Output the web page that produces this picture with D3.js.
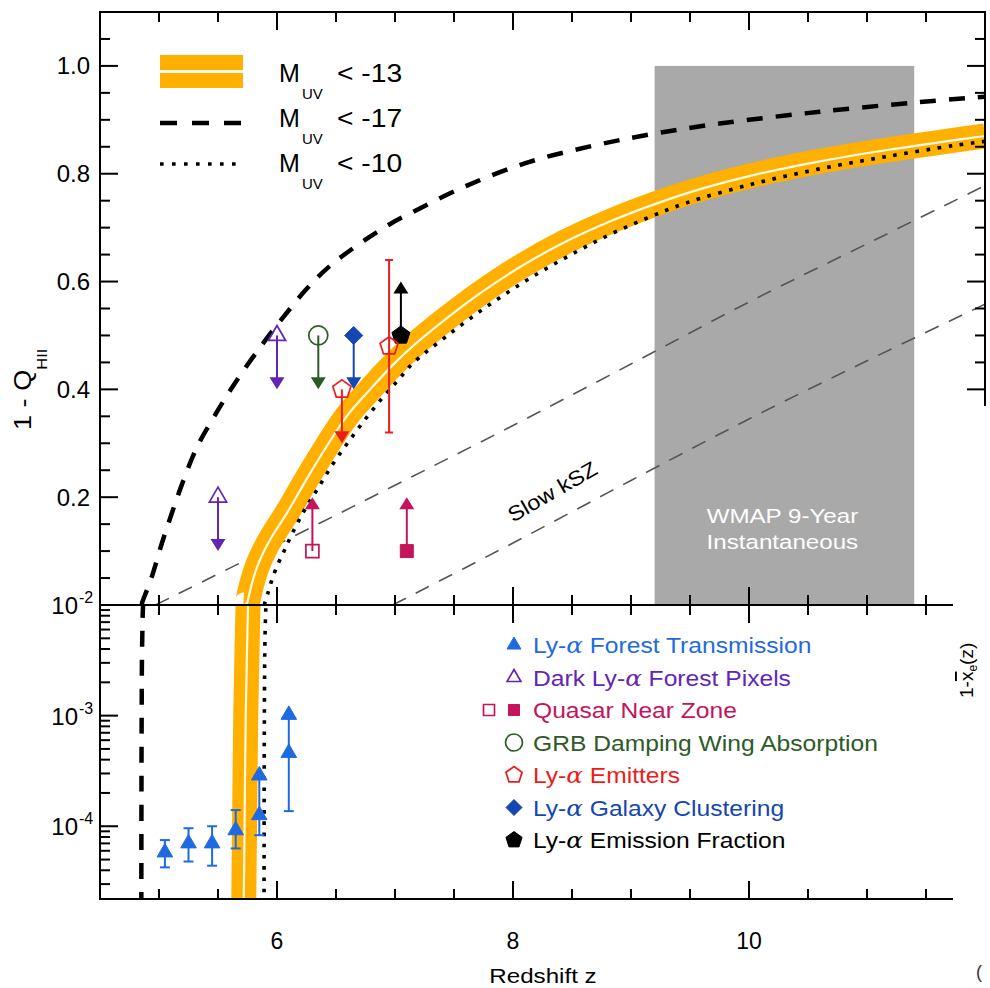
<!DOCTYPE html>
<html>
<head>
<meta charset="utf-8">
<script src="https://cdn.jsdelivr.net/npm/d3@7/dist/d3.min.js"></script>
<style>
  body { margin: 0; background: #fff; }
  text { font-family: "Liberation Sans", Arial, Helvetica, sans-serif; }
</style>
</head>
<body>
<svg id="chart" width="990" height="988"></svg>
<script>
// ---- model curves: redshift z and 1 - Q_HII ----
const bandZ = [5.715, 5.725, 5.735, 5.748, 5.765, 5.79, 5.83, 5.89, 5.96, 6.085, 6.25, 6.42, 6.59, 6.79, 6.98, 7.15, 7.44, 7.72, 8.06, 8.42, 8.85, 9.22, 9.58, 10.03, 10.6, 11.17, 11.73, 12.0]
const bandQ = [1e-5, 1e-4, 1e-3, 0.005, 0.02, 0.042, 0.07, 0.1, 0.128, 0.171, 0.233, 0.294, 0.35, 0.40, 0.445, 0.48, 0.532, 0.578, 0.627, 0.671, 0.714, 0.745, 0.771, 0.797, 0.823, 0.844, 0.862, 0.870]

const brightZ = [4.85, 4.853, 4.858, 4.87, 4.94, 5.025, 5.11, 5.2, 5.32, 5.45, 5.58, 5.71, 5.88, 6.05, 6.25, 6.47, 6.93, 7.15, 7.61, 8.14, 8.68, 9.19, 9.75, 10.6, 11.45, 12.0]
const brightQ = [1e-5, 1e-3, 0.005, 0.012, 0.053, 0.115, 0.171, 0.227, 0.292, 0.343, 0.39, 0.433, 0.485, 0.533, 0.586, 0.633, 0.703, 0.729, 0.778, 0.822, 0.852, 0.874, 0.893, 0.915, 0.933, 0.943]

const faintZ = [5.89, 5.893, 5.9, 5.92, 5.95, 6.0, 6.06, 6.11, 6.22, 6.34, 6.475, 6.62, 6.76, 6.9, 7.03, 7.15, 7.44, 7.78, 8.12, 8.46, 8.8, 9.14, 9.47, 10.03, 10.6, 11.17, 11.73, 12.0]
const faintQ = [1e-5, 1e-3, 0.006, 0.02, 0.042, 0.072, 0.1, 0.124, 0.171, 0.214, 0.262, 0.307, 0.348, 0.386, 0.418, 0.448, 0.499, 0.554, 0.603, 0.646, 0.685, 0.718, 0.746, 0.781, 0.809, 0.832, 0.852, 0.860]

const kszUpperZ = [4.97, 6.0, 7.0, 8.0, 9.0, 10.0, 11.0, 12.0]
const kszUpperQ = [0, 0.112, 0.222, 0.333, 0.447, 0.562, 0.67, 0.778]
const kszLowerZ = [6.98, 8.0, 9.0, 10.0, 11.0, 12.0]
const kszLowerQ = [0, 0.115, 0.231, 0.345, 0.453, 0.558]

const wmapZ = [9.2, 11.4]
const wmapTop = 1.0

// ---- observational constraints ----
const forestZ = [5.05, 5.25, 5.45, 5.65, 5.85, 6.1]
const forestVal = [5.8e-5, 7.0e-5, 7.0e-5, 9.2e-5, 1.26e-4, 4.6e-4]
const forestLo = [4.25e-5, 4.8e-5, 4.4e-5, 6.3e-5, 8.3e-5, 1.37e-4]
const forestHi = [7.5e-5, 9.6e-5, 1.0e-4, 1.4e-4, 3.4e-4, 1.2e-3]
const forestHiArrow = [false, false, false, false, true, true]

const darkZ = [5.5, 6.0]
const darkVal = [0.2, 0.5]
const grbZ = [6.35]
const grbVal = [0.5]
const clusterZ = [6.65]
const clusterVal = [0.5]
const laeLimZ = [6.55]
const laeLimVal = [0.4]
const laeZ = [6.95]
const laeVal = [0.48]
const laeLo = [0.32]
const laeHi = [0.64]
const fracZ = [7.05]
const fracVal = [0.5]
const qsoOpenZ = [6.3]
const qsoOpenVal = [0.1]
const qsoFillZ = [7.1]
const qsoFillVal = [0.1]
const limitSpan = 0.1

const xTicks = [6, 8, 10]
const yTopTicks = [0.2, 0.4, 0.6, 0.8, 1.0]
const yBotTicks = [-2, -3, -4]

const legendLabels = ['Ly-', 'Dark Ly-', 'Quasar Near Zone', 'GRB Damping Wing Absorption', 'Ly-', 'Ly-', 'Ly-']
const legendTails = [' Forest Transmission', ' Forest Pixels', '', '', ' Emitters', ' Galaxy Clustering', ' Emission Fraction']
const legendAlpha = [true, true, false, false, true, true, true]
const modelLabels = ['< -13', '< -17', '< -10']

// ---- colours ----
const cForest = '#1f6ae0', cDark = '#6326b4', cQso = '#c4145c', cGrb = '#2d5a27'
const cLae = '#ec1c1c', cClus = '#1546b2', cFrac = '#000000'
const cBand = '#ffb000'

const svg = d3.select('#chart')

const x = d3.scaleLinear().domain([4.5, 12]).range([100, 985])
const yTop = d3.scaleLinear().domain([0, 1.1]).range([605, 12])
const yBot = d3.scaleLog().domain([1e-2, 2.2e-5]).range([605, 899])

const [x0, x1] = x.range()
const yMid = yTop(0), yT = yTop(1.1), yB = yBot.range()[1]

let defs = svg.append('defs')
defs.append('clipPath').attr('id', 'clipTop').append('rect')
  .attr('x', x0).attr('y', yT).attr('width', x1 - x0).attr('height', yMid - yT)
defs.append('clipPath').attr('id', 'clipBot').append('rect')
  .attr('x', x0).attr('y', yMid).attr('width', x1 - x0).attr('height', yB - yMid)

let gTop = svg.append('g').attr('clip-path', 'url(#clipTop)')
let gBot = svg.append('g').attr('clip-path', 'url(#clipBot)')

// WMAP box
gTop.append('rect')
  .attr('x', x(wmapZ[0])).attr('y', yTop(wmapTop))
  .attr('width', x(wmapZ[1]) - x(wmapZ[0])).attr('height', yTop(0) - yTop(wmapTop))
  .attr('fill', '#a9a9a9')

function stretched(parent, tx, ty, str, size, sx, opts) {
  let g = parent.append('g').attr('transform', `translate(${tx},${ty})` + (opts && opts.rot ? ` rotate(${opts.rot})` : '') + ` scale(${sx},1)`)
  let t = g.append('text').attr('x', 0).attr('y', 0).attr('font-size', size)
    .attr('text-anchor', (opts && opts.anchor) || 'start')
    .attr('fill', (opts && opts.fill) || '#000')
  if (str !== null) t.text(str)
  return t
}

let wx = x((wmapZ[0] + wmapZ[1]) / 2) - 2
stretched(svg, wx, 523, 'WMAP 9-Year', 21, 1.15, { anchor: 'middle', fill: '#fff' })
stretched(svg, wx, 549, 'Instantaneous', 21, 1.15, { anchor: 'middle', fill: '#fff' })

const pair = (zs, qs) => zs.map((z, i) => [z, qs[i]])
const lineTop = d3.line().x(d => x(d[0])).y(d => yTop(d[1])).curve(d3.curveCatmullRom.alpha(0.5))
const lineBot = d3.line().x(d => x(d[0])).y(d => yBot(d[1])).curve(d3.curveCatmullRom.alpha(0.5))

// slow kSZ lines
;[pair(kszUpperZ, kszUpperQ), pair(kszLowerZ, kszLowerQ)].forEach(pts => {
  gTop.append('path').attr('d', lineTop(pts)).attr('fill', 'none')
    .attr('stroke', '#555').attr('stroke-width', 1.6).attr('stroke-dasharray', '15,11')
})
stretched(svg, 556, 498, 'Slow kSZ', 21, 1.12, { anchor: 'middle', rot: -30 })

// model curves in both panels
function drawCurves(g, line) {
  let band = pair(bandZ, bandQ)
  g.append('path').attr('d', line(band)).attr('fill', 'none')
    .attr('stroke', cBand).attr('stroke-width', 25).attr('stroke-linejoin', 'round')
  g.append('path').attr('d', line(band)).attr('fill', 'none')
    .attr('stroke', '#fffbe6').attr('stroke-width', 2.2)
  g.append('path').attr('d', line(pair(faintZ, faintQ))).attr('fill', 'none')
    .attr('stroke', '#000').attr('stroke-width', 3.6).attr('stroke-dasharray', '3.6,7.6')
  g.append('path').attr('d', line(pair(brightZ, brightQ))).attr('fill', 'none')
    .attr('stroke', '#000').attr('stroke-width', 4.5).attr('stroke-dasharray', '16,13')
}
drawCurves(gTop, lineTop)
drawCurves(gBot, lineBot)

// ---- marker shapes ----
function shape(kind, r) {
  let p = d3.path()
  if (kind === 'triUp') {
    p.moveTo(0, -r); p.lineTo(r * 0.866, r * 0.5); p.lineTo(-r * 0.866, r * 0.5); p.closePath()
  } else if (kind === 'square') {
    p.rect(-r, -r, 2 * r, 2 * r)
  } else if (kind === 'diamond') {
    p.moveTo(0, -r); p.lineTo(r, 0); p.lineTo(0, r); p.lineTo(-r, 0); p.closePath()
  } else if (kind === 'pentagon') {
    for (let i = 0; i < 5; i++) {
      let a = -Math.PI / 2 + i * 2 * Math.PI / 5
      if (i === 0) p.moveTo(r * Math.cos(a), r * Math.sin(a))
      else p.lineTo(r * Math.cos(a), r * Math.sin(a))
    }
    p.closePath()
  } else if (kind === 'circle') {
    p.arc(0, 0, r, 0, 2 * Math.PI)
  }
  return p.toString()
}

function marker(g, cx, cy, kind, r, color, filled) {
  g.append('path').attr('d', shape(kind, r)).attr('transform', `translate(${cx},${cy})`)
    .attr('fill', filled ? color : 'none').attr('stroke', color).attr('stroke-width', filled ? 1 : 1.7)
}

function arrow(g, px, fromY, toY, color) {
  let dir = toY > fromY ? 1 : -1
  g.append('line').attr('x1', px).attr('x2', px).attr('y1', fromY).attr('y2', toY - dir * 8)
    .attr('stroke', color).attr('stroke-width', 2)
  let p = d3.path()
  p.moveTo(px, toY); p.lineTo(px - 7.5, toY - dir * 12); p.lineTo(px + 7.5, toY - dir * 12); p.closePath()
  g.append('path').attr('d', p.toString()).attr('fill', color)
}

let gMark = svg.append('g')

// upper limits (arrow down)
function limits(zs, vs, kind, r, color, filled) {
  zs.forEach((z, i) => {
    arrow(gMark, x(z), yTop(vs[i]), yTop(vs[i] - limitSpan), color)
    marker(gMark, x(z), yTop(vs[i]), kind, r, color, filled)
  })
}
limits(darkZ, darkVal, 'triUp', 10, cDark, false)
limits(grbZ, grbVal, 'circle', 9.5, cGrb, false)
limits(clusterZ, clusterVal, 'diamond', 9, cClus, true)
limits(laeLimZ, laeLimVal, 'pentagon', 9.5, cLae, false)

// lower limits (arrow up)
function lowers(zs, vs, kind, r, color, filled) {
  zs.forEach((z, i) => {
    arrow(gMark, x(z), yTop(vs[i]), yTop(vs[i] + limitSpan), color)
    marker(gMark, x(z), yTop(vs[i]), kind, r, color, filled)
  })
}
lowers(qsoOpenZ, qsoOpenVal, 'square', 6.5, cQso, false)
lowers(qsoFillZ, qsoFillVal, 'square', 6.5, cQso, true)
lowers(fracZ, fracVal, 'pentagon', 9.5, cFrac, true)

// LAE measurement with error bar
laeZ.forEach((z, i) => {
  let px = x(z)
  gMark.append('line').attr('x1', px).attr('x2', px).attr('y1', yTop(laeLo[i])).attr('y2', yTop(laeHi[i]))
    .attr('stroke', cLae).attr('stroke-width', 2)
  ;[laeLo[i], laeHi[i]].forEach(v => gMark.append('line').attr('x1', px - 4).attr('x2', px + 4)
    .attr('y1', yTop(v)).attr('y2', yTop(v)).attr('stroke', cLae).attr('stroke-width', 2))
  marker(gMark, px, yTop(laeVal[i]), 'pentagon', 9.5, cLae, false)
})

// Ly-a forest transmission (bottom panel)
forestZ.forEach((z, i) => {
  let px = x(z)
  let top = forestHiArrow[i] ? yBot(forestHi[i]) + 8 : yBot(forestHi[i])
  gMark.append('line').attr('x1', px).attr('x2', px).attr('y1', yBot(forestLo[i])).attr('y2', top)
    .attr('stroke', cForest).attr('stroke-width', 2)
  gMark.append('line').attr('x1', px - 5).attr('x2', px + 5)
    .attr('y1', yBot(forestLo[i])).attr('y2', yBot(forestLo[i])).attr('stroke', cForest).attr('stroke-width', 2)
  if (forestHiArrow[i]) {
    marker(gMark, px, yBot(forestHi[i]) + 8, 'triUp', 9, cForest, true)
  } else {
    gMark.append('line').attr('x1', px - 5).attr('x2', px + 5)
      .attr('y1', yBot(forestHi[i])).attr('y2', yBot(forestHi[i])).attr('stroke', cForest).attr('stroke-width', 2)
  }
  marker(gMark, px, yBot(forestVal[i]), 'triUp', 9, cForest, true)
})

// ---- frame and ticks ----
let gAx = svg.append('g').attr('stroke', '#000').attr('stroke-width', 2)
gAx.append('rect').attr('x', x0).attr('y', yT).attr('width', x1 - x0).attr('height', yB - yT).attr('fill', 'none')
gAx.append('line').attr('x1', x0).attr('x2', x1).attr('y1', yMid).attr('y2', yMid)

const tk = (x1_, y1_, x2_, y2_) => gAx.append('line').attr('x1', x1_).attr('y1', y1_).attr('x2', x2_).attr('y2', y2_)

d3.range(5, 12, 0.5).forEach(z => {
  let L = z % 2 === 0 ? 18 : 10
  let px = x(z)
  tk(px, yT, px, yT + L)
  tk(px, yMid, px, yMid - L)
  tk(px, yMid, px, yMid + L)
  tk(px, yB, px, yB - L)
})
d3.range(0.05, 1.09, 0.05).forEach(v => {
  let L = Math.abs(v / 0.2 - Math.round(v / 0.2)) < 1e-6 ? 18 : 10
  tk(x0, yTop(v), x0 + L, yTop(v))
  tk(x1, yTop(v), x1 - L, yTop(v))
})
yBot.ticks().forEach(v => {
  let dec = Math.abs(Math.log10(v) - Math.round(Math.log10(v))) < 1e-6
  let L = dec ? 18 : 10
  tk(x0, yBot(v), x0 + L, yBot(v))
  tk(x1, yBot(v), x1 - L, yBot(v))
})

// cover at the lower right (neighbouring panel)
svg.append('rect').attr('x', 953).attr('y', 406).attr('width', 40).attr('height', 590).attr('fill', '#fff')

// tick labels
xTicks.forEach(z => svg.append('text').attr('x', x(z)).attr('y', 949).attr('text-anchor', 'middle')
  .attr('font-size', 23).text(z))
yTopTicks.forEach(v => svg.append('text').attr('x', 90).attr('y', yTop(v) + 8.5).attr('text-anchor', 'end')
  .attr('font-size', 24).text(v.toFixed(1)))
yBotTicks.forEach(e => {
  svg.append('text').attr('x', 78).attr('y', yBot(Math.pow(10, e)) + 9).attr('text-anchor', 'end')
    .attr('font-size', 24).text('10')
  svg.append('text').attr('x', 79).attr('y', yBot(Math.pow(10, e)) - 2).attr('font-size', 16).text(String(e))
})

// axis titles
stretched(svg, 543, 983, 'Redshift z', 21, 1.15, { anchor: 'middle' })
let yt = stretched(svg, 31, 430, null, 23, 1.18, { rot: -90 })
yt.append('tspan').text('1 - Q')
yt.append('tspan').attr('font-size', 14).attr('dy', 16).text('HII')

let xe = svg.append('text').attr('transform', 'translate(973,698) rotate(-90)').attr('font-size', 19)
xe.append('tspan').text('1-')
xe.append('tspan').attr('text-decoration', 'overline').text('x')
xe.append('tspan').attr('font-size', 12).attr('dy', 4).text('e')
xe.append('tspan').attr('dy', -4).text('(z)')
svg.append('text').attr('x', 976).attr('y', 978).attr('font-size', 18).attr('fill', '#333').text('(')

// ---- model legend (top left) ----
const legY = [71, 116, 161]
let gl = svg.append('g')
gl.append('rect').attr('x', 160).attr('y', legY[0] - 16).attr('width', 83).attr('height', 33).attr('fill', cBand)
gl.append('line').attr('x1', 160).attr('x2', 243).attr('y1', legY[0] + 0.5).attr('y2', legY[0] + 0.5)
  .attr('stroke', '#fffbe6').attr('stroke-width', 3)
gl.append('line').attr('x1', 160).attr('x2', 243).attr('y1', legY[1] + 7).attr('y2', legY[1] + 7)
  .attr('stroke', '#000').attr('stroke-width', 4.5).attr('stroke-dasharray', '17,15')
gl.append('line').attr('x1', 160).attr('x2', 243).attr('y1', legY[2] + 3).attr('y2', legY[2] + 3)
  .attr('stroke', '#000').attr('stroke-width', 3.6).attr('stroke-dasharray', '3.6,8.4')
modelLabels.forEach((s, i) => {
  let by = 82 + i * 45
  gl.append('text').attr('x', 279).attr('y', by).attr('font-size', 25).text('M')
  gl.append('text').attr('x', 302).attr('y', by + 17).attr('font-size', 15).text('UV')
  stretched(gl, 337, by, s, 25, 1.13)
})

// ---- data legend (bottom right) ----
const legColors = [cForest, cDark, cQso, cGrb, cLae, cClus, cFrac]
const legKinds = [['triUp', true], ['triUp', false], ['square', true], ['circle', false], ['pentagon', false], ['diamond', true], ['pentagon', true]]
const legR = [8, 8, 5.5, 8.5, 8.5, 8, 8.5]
legendLabels.forEach((s, i) => {
  let cy = 645 + i * 32.5
  marker(svg, 514, cy, legKinds[i][0], legR[i], legColors[i], legKinds[i][1])
  if (i === 2) marker(svg, 489, cy, 'square', 5.5, legColors[i], false)
  let t = stretched(svg, 533, cy + 8, null, 22, 1.12, { fill: legColors[i] })
  t.append('tspan').text(s)
  if (legendAlpha[i]) {
    t.append('tspan').attr('font-family', '"DejaVu Serif", "Liberation Serif", serif').attr('font-style', 'italic').text('\u03b1')
    t.append('tspan').text(legendTails[i])
  }
})
</script>
</body>
</html>
